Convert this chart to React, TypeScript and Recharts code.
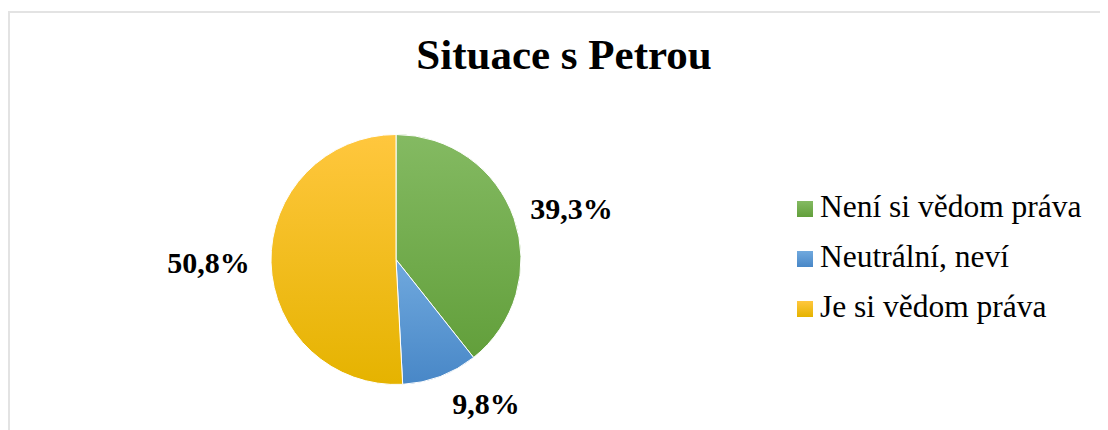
import { PieChart, Pie, Cell, Legend } from "recharts"

const categories = ["Není si vědom práva", "Neutrální, neví", "Je si vědom práva"]
const shares = [39.3, 9.8, 50.8]

const colors = [
  { top: "#84ba62", bottom: "#629f3b" },
  { top: "#70a9de", bottom: "#4887c7" },
  { top: "#ffc73e", bottom: "#e5b300" },
]

// where Excel put the data labels (angle in degrees, distance in radii)
const labelSpots = [
  { angle: 16, dist: 1.46 },
  { angle: -58, dist: 1.36 },
  { angle: 181, dist: 1.5 },
]

const data = categories.map((name, i) => ({ name, value: shares[i] }))

const serif = "Liberation Serif, Times New Roman, serif"

function renderLabel(props: any) {
  const { cx, cy, outerRadius, index, value } = props
  const spot = labelSpots[index]
  const rad = (spot.angle * Math.PI) / 180
  const x = cx + Math.cos(rad) * outerRadius * spot.dist
  const y = cy - Math.sin(rad) * outerRadius * spot.dist
  return (
    <text
      x={x}
      y={y + 10}
      textAnchor="middle"
      fontFamily={serif}
      fontWeight="bold"
      fontSize={30}
      fill="#000"
      style={{ fontFamily: serif }}
    >
      {String(value).replace(".", ",") + "%"}
    </text>
  )
}

function LegendBox() {
  return (
    <div style={{ fontFamily: serif, fontSize: 31.5, color: "#000" }}>
      {categories.map((name, i) => (
        <div key={name} style={{ height: 50, lineHeight: "50px", whiteSpace: "nowrap" }}>
          <span
            style={{
              display: "inline-block",
              width: 16,
              height: 16,
              marginRight: 7,
              verticalAlign: "baseline",
              background: `linear-gradient(${colors[i].top}, ${colors[i].bottom})`,
            }}
          />
          {name}
        </div>
      ))}
    </div>
  )
}

export default function App() {
  return (
    <div style={{ position: "relative", width: 1100, height: 422, overflow: "hidden", background: "#fff", fontFamily: serif }}>
      <div
        style={{
          position: "absolute",
          left: 0,
          top: 3,
          width: 1120,
          height: 440,
          borderTop: "2px solid #e3e3e3",
          borderLeft: "2px solid #e3e3e3",
        }}
      />
      <div
        style={{
          position: "absolute",
          left: 0,
          top: 25,
          width: 1112,
          textAlign: "center",
          fontFamily: serif,
          fontWeight: "bold",
          fontSize: 43,
          lineHeight: "43px",
          color: "#000",
        }}
      >
        Situace s Petrou
      </div>
      <PieChart
        width={1100}
        height={422}
        margin={{ top: 0, right: 0, bottom: 0, left: 0 }}
        style={{ position: "absolute", left: 0, top: 0, fontFamily: serif }}
      >
        <defs>
          {colors.map((c, i) => (
            <linearGradient key={i} id={`slice${i}`} x1="0" y1="0" x2="0" y2="1">
              <stop offset="0%" stopColor={c.top} />
              <stop offset="100%" stopColor={c.bottom} />
            </linearGradient>
          ))}
        </defs>
        <Pie
          data={data}
          dataKey="value"
          nameKey="name"
          cx={388}
          cy={251.5}
          outerRadius={125}
          startAngle={90}
          endAngle={-270}
          stroke="#ffffff"
          strokeWidth={1}
          label={renderLabel}
          labelLine={false}
          isAnimationActive={false}
        >
          {data.map((d, i) => (
            <Cell key={d.name} fill={`url(#slice${i})`} />
          ))}
        </Pie>
        <Legend
          content={<LegendBox />}
          layout="vertical"
          wrapperStyle={{ position: "absolute", left: 789, top: 173.5, width: 320 }}
        />
      </PieChart>
    </div>
  )
}
